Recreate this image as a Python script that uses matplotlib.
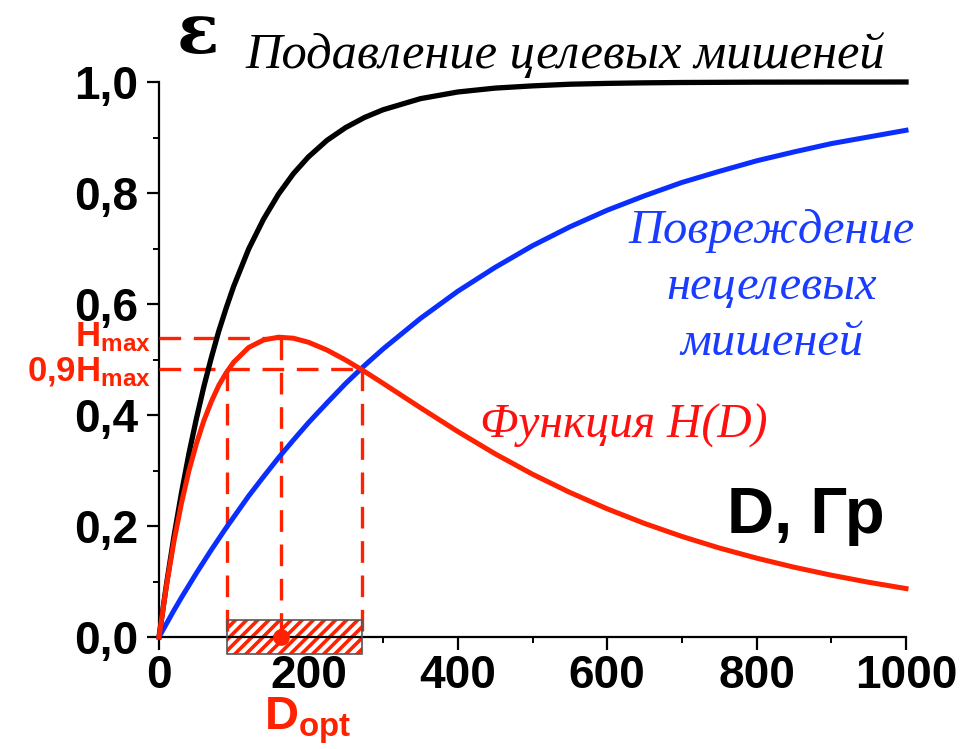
import matplotlib
matplotlib.use('Agg')
import matplotlib.pyplot as plt
from matplotlib.patches import Rectangle
from matplotlib.ticker import FixedLocator

# ---- data ----
dose = [0, 10, 20, 30, 40, 50, 60, 70, 80, 90, 100, 120, 140, 160, 180, 200,
        225, 250, 275, 300, 350, 400, 450, 500, 550, 600, 650, 700, 750, 800,
        850, 900, 950, 1000]
target_suppression = [0.0, 0.095, 0.181, 0.259, 0.330, 0.393, 0.451, 0.503, 0.551,
                      0.593, 0.632, 0.699, 0.753, 0.798, 0.835, 0.865, 0.895, 0.918,
                      0.936, 0.950, 0.970, 0.982, 0.989, 0.993, 0.996, 0.9975, 0.9985,
                      0.9991, 0.9994, 0.9997, 0.9998, 0.9999, 0.9999, 1.0]
nontarget_damage = [0.0, 0.024, 0.048, 0.071, 0.093, 0.115, 0.136, 0.157, 0.177,
                    0.197, 0.216, 0.254, 0.289, 0.323, 0.355, 0.386, 0.422, 0.457,
                    0.489, 0.519, 0.574, 0.623, 0.666, 0.705, 0.739, 0.769, 0.795,
                    0.819, 0.839, 0.858, 0.874, 0.889, 0.901, 0.913]
h_function = [0.0, 0.0927, 0.1724, 0.2407, 0.2993, 0.3479, 0.3896, 0.4240, 0.4533,
              0.4761, 0.4952, 0.5216, 0.5352, 0.5402, 0.5383, 0.5311, 0.5170, 0.4989,
              0.4786, 0.4570, 0.4131, 0.3702, 0.3300, 0.2933, 0.2605, 0.2309, 0.2046,
              0.1812, 0.1604, 0.1421, 0.1258, 0.1114, 0.0986, 0.0873]

d_opt = 163
d_low = 91
d_high = 272
h_max = 0.538
h_09 = 0.482
band_half = 0.031

xticks = [0, 200, 400, 600, 800, 1000]
xtick_labels = ['0', '200', '400', '600', '800', '1000']
xminor = [100, 300, 500, 700, 900]
yticks = [0.0, 0.2, 0.4, 0.6, 0.8, 1.0]
ytick_labels = ['0,0', '0,2', '0,4', '0,6', '0,8', '1,0']
yminor = [0.1, 0.3, 0.5, 0.7, 0.9]

RED = '#ff2200'
BLUE = '#0a2eff'
TXT_BLUE = '#1a3cff'
TXT_RED = '#ff1010'
SERIF = 'Liberation Serif'

plt.rcParams['hatch.linewidth'] = 2.6
plt.rcParams['mathtext.fontset'] = 'custom'
plt.rcParams['mathtext.bf'] = 'Liberation Sans:bold'
plt.rcParams['mathtext.rm'] = 'Liberation Sans'

W, H = 967, 749
fig = plt.figure(figsize=(W / 100, H / 100), dpi=100)
x0, x1, y0, y1 = 159, 906, 637, 82
ax = fig.add_axes([x0 / W, 1 - y0 / H, (x1 - x0) / W, (y0 - y1) / H])
renderer = fig.canvas.get_renderer()


def px(x, y):
    return x / W, 1 - y / H


def fit_width(t, width):
    w = t.get_window_extent(renderer=renderer).width
    t.set_fontsize(t.get_fontsize() * width / w)


ax.plot(dose, target_suppression, color='black', lw=3.8, clip_on=False, zorder=3)
ax.plot(dose, nontarget_damage, color=BLUE, lw=3.6, clip_on=False, zorder=3)
ax.plot(dose, h_function, color=RED, lw=3.6, clip_on=False, zorder=3.2)

dash = (6.5, 3.8)
dkw = dict(color=RED, lw=2.4, dashes=dash, clip_on=False, zorder=2.8)
ax.plot([0, d_opt], [h_max, h_max], **dkw)
ax.plot([0, d_high], [h_09, h_09], **dkw)
ax.plot([d_opt, d_opt], [h_max, 0], **dkw)
ax.plot([d_low, d_low], [h_09, 0], **dkw)
ax.plot([d_high, d_high], [h_09, 0], **dkw)

band = Rectangle((d_low, -band_half), d_high - d_low, 2 * band_half,
                 facecolor='white', edgecolor=RED, hatch='///', lw=0,
                 clip_on=False, zorder=2)
ax.add_patch(band)
ax.add_patch(Rectangle((d_low, -band_half), d_high - d_low, 2 * band_half,
                       fill=False, edgecolor='#555555', lw=1.2, clip_on=False, zorder=2.9))
ax.plot([d_opt], [0], 'o', ms=11, color=RED, clip_on=False, zorder=5)

ax.set_xlim(0, 1000)
ax.set_ylim(0, 1)
for s in ['top', 'right']:
    ax.spines[s].set_visible(False)
for s in ['left', 'bottom']:
    ax.spines[s].set_linewidth(1.6)

ax.xaxis.set_major_locator(FixedLocator(xticks))
ax.set_xticklabels(xtick_labels)
ax.xaxis.set_minor_locator(FixedLocator(xminor))
ax.yaxis.set_major_locator(FixedLocator(yticks))
ax.set_yticklabels(ytick_labels)
ax.yaxis.set_minor_locator(FixedLocator(yminor))
ax.tick_params(which='major', length=9, width=1.6, direction='out')
ax.tick_params(which='minor', length=4.5, width=1.4, direction='out')
ax.tick_params(axis='x', which='major', pad=3)
ax.tick_params(axis='y', which='major', pad=6)
for lab in ax.get_xticklabels():
    lab.set_fontfamily('Liberation Sans')
    lab.set_fontweight('bold')
    lab.set_fontsize(33)
for lab in ax.get_yticklabels():
    lab.set_fontfamily('Liberation Sans')
    lab.set_fontweight('bold')
    lab.set_fontsize(33)

# texts
fig.text(*px(177, 53), 'ε', family='DejaVu Serif', weight='bold', size=50,
         ha='left', va='baseline')
t = fig.text(*px(245, 68), 'Подавление целевых мишеней', family=SERIF,
             style='italic', size=36, ha='left', va='baseline', color='black')
fit_width(t, 640)
for txt, yb, wd in zip(['Повреждение', 'нецелевых', 'мишеней'], [243, 299, 355],
                       [287, 220, 192]):
    t = fig.text(*px(772, yb), txt, family=SERIF, style='italic', size=34,
                 ha='center', va='baseline', color=TXT_BLUE)
    if wd == 287:
        fit_width(t, wd)
        blue_size = t.get_fontsize()
    else:
        t.set_fontsize(blue_size)
t = fig.text(*px(480, 438), 'Функция H(D)', family=SERIF, style='italic',
             size=34, ha='left', va='baseline', color=TXT_RED)
fit_width(t, 288)
fig.text(*px(727, 533), 'D, Гр', family='Liberation Sans', weight='bold', size=47,
         ha='left', va='baseline', color='black')
fig.text(*px(151, 346), r'$\mathbf{H_{max}}$', size=25, ha='right', va='baseline',
         color=RED)
fig.text(*px(151, 381), r'$\mathbf{0{,}9H_{max}}$', size=25, ha='right',
         va='baseline', color=RED)
fig.text(*px(264, 730), r'$\mathbf{D_{opt}}$', size=34, ha='left', va='baseline',
         color=RED)

fig.savefig('out.png', dpi=100)
